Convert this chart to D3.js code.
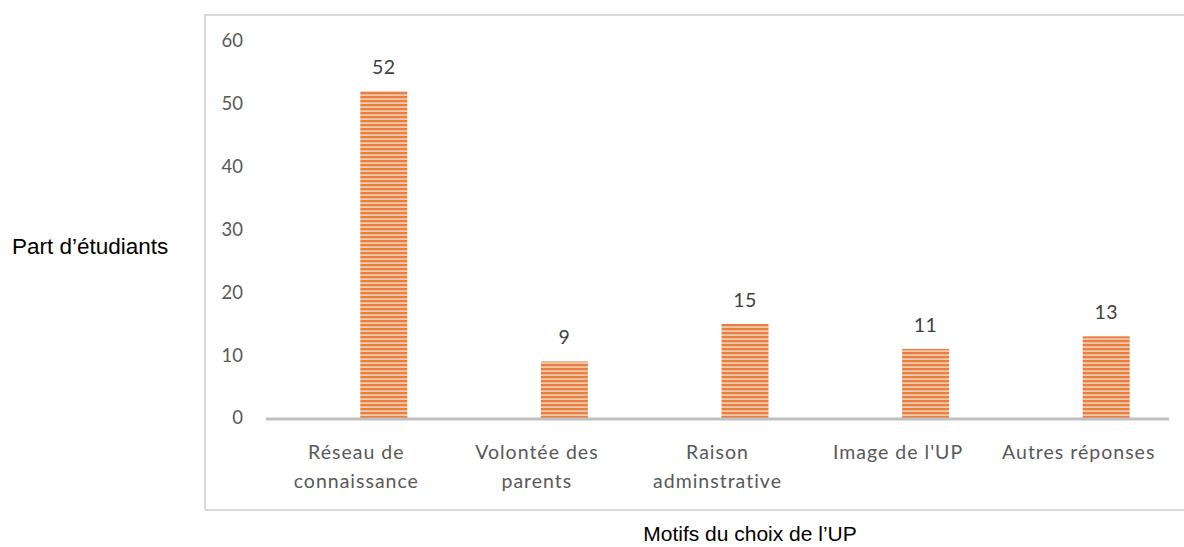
<!DOCTYPE html>
<html><head><meta charset="utf-8">
<script src="https://cdn.jsdelivr.net/npm/d3@7"></script>
<style>body{margin:0;background:#fff}svg{display:block}</style>
</head><body>
<script>
const categories = [["Réseau de","connaissance"],["Volontée des","parents"],["Raison","adminstrative"],["Image de l'UP"],["Autres réponses"]];
const values = [52, 9, 15, 11, 13];
const yTicks = [0, 10, 20, 30, 40, 50, 60];
const yTitle = "Part d’étudiants";
const xTitle = "Motifs du choix de l’UP";

const W = 1184, H = 547;
const svg = d3.select("body").append("svg").attr("width", W).attr("height", H);
const defs = svg.append("defs");
const pat = defs.append("pattern").attr("id","stripes").attr("patternUnits","userSpaceOnUse")
  .attr("width",8).attr("height",4);
pat.append("rect").attr("width",8).attr("height",4).attr("fill","#f6c7a3");
pat.append("rect").attr("y",0).attr("width",8).attr("height",2.2).attr("fill","#e67f46");

// frame
svg.append("path").attr("d","M205,510 L205,15 L1184,15 M205,510 L1184,510")
  .attr("fill","none").attr("stroke","#d9d9d9").attr("stroke-width",2);

const x = d3.scaleBand().domain(d3.range(categories.length)).range([266,1169]);
const y = d3.scaleLinear().domain([0,60]).range([418,41]);

// y ticks
svg.append("g").selectAll("text").data(yTicks).join("text")
  .attr("x",243).attr("y",d=>y(d)).attr("dy","0.35em").attr("text-anchor","end")
  .attr("font-family","Lato, 'Open Sans', sans-serif").attr("font-size",18.5).attr("fill","#595959")
  .text(d=>d);

// bars
const bw = 47;
const off = 4;
svg.append("g").selectAll("rect").data(values).join("rect")
  .attr("x",(d,i)=>x(i)+x.bandwidth()/2+off).attr("width",bw)
  .attr("y",d=>y(d)).attr("height",d=>y(0)-y(d))
  .attr("fill","url(#stripes)");

// value labels
svg.append("g").selectAll("text").data(values).join("text")
  .attr("x",(d,i)=>x(i)+x.bandwidth()/2+off+bw/2).attr("y",d=>y(d)-17)
  .attr("text-anchor","middle").attr("font-family","Lato, 'Open Sans', sans-serif")
  .attr("font-size",19.5).attr("fill","#404040").attr("letter-spacing","0.5px").text(d=>d);

// baseline
svg.append("line").attr("x1",266).attr("x2",1169).attr("y1",419).attr("y2",419)
  .attr("stroke","#bfbfbf").attr("stroke-width",3);

// category labels
const cat = svg.append("g").selectAll("text").data(categories).join("text")
  .attr("text-anchor","middle").attr("font-family","Lato, 'Open Sans', sans-serif")
  .attr("font-size",19.5).attr("fill","#595959").attr("letter-spacing","1px");
cat.each(function(lines,i){
  const t = d3.select(this);
  lines.forEach((l,j)=>{
    t.append("tspan").attr("x",x(i)+x.bandwidth()/2).attr("y",459+j*29).text(l);
  });
});

// axis titles
svg.append("text").attr("x",12).attr("y",254).attr("font-family","'Liberation Sans', Arial, sans-serif")
  .attr("font-size",22.5).attr("fill","#000").text(yTitle);
svg.append("text").attr("x",750).attr("y",541).attr("text-anchor","middle")
  .attr("font-family","'Liberation Sans', Arial, sans-serif")
  .attr("font-size",21).attr("fill","#000").text(xTitle);
</script>
</body></html>
